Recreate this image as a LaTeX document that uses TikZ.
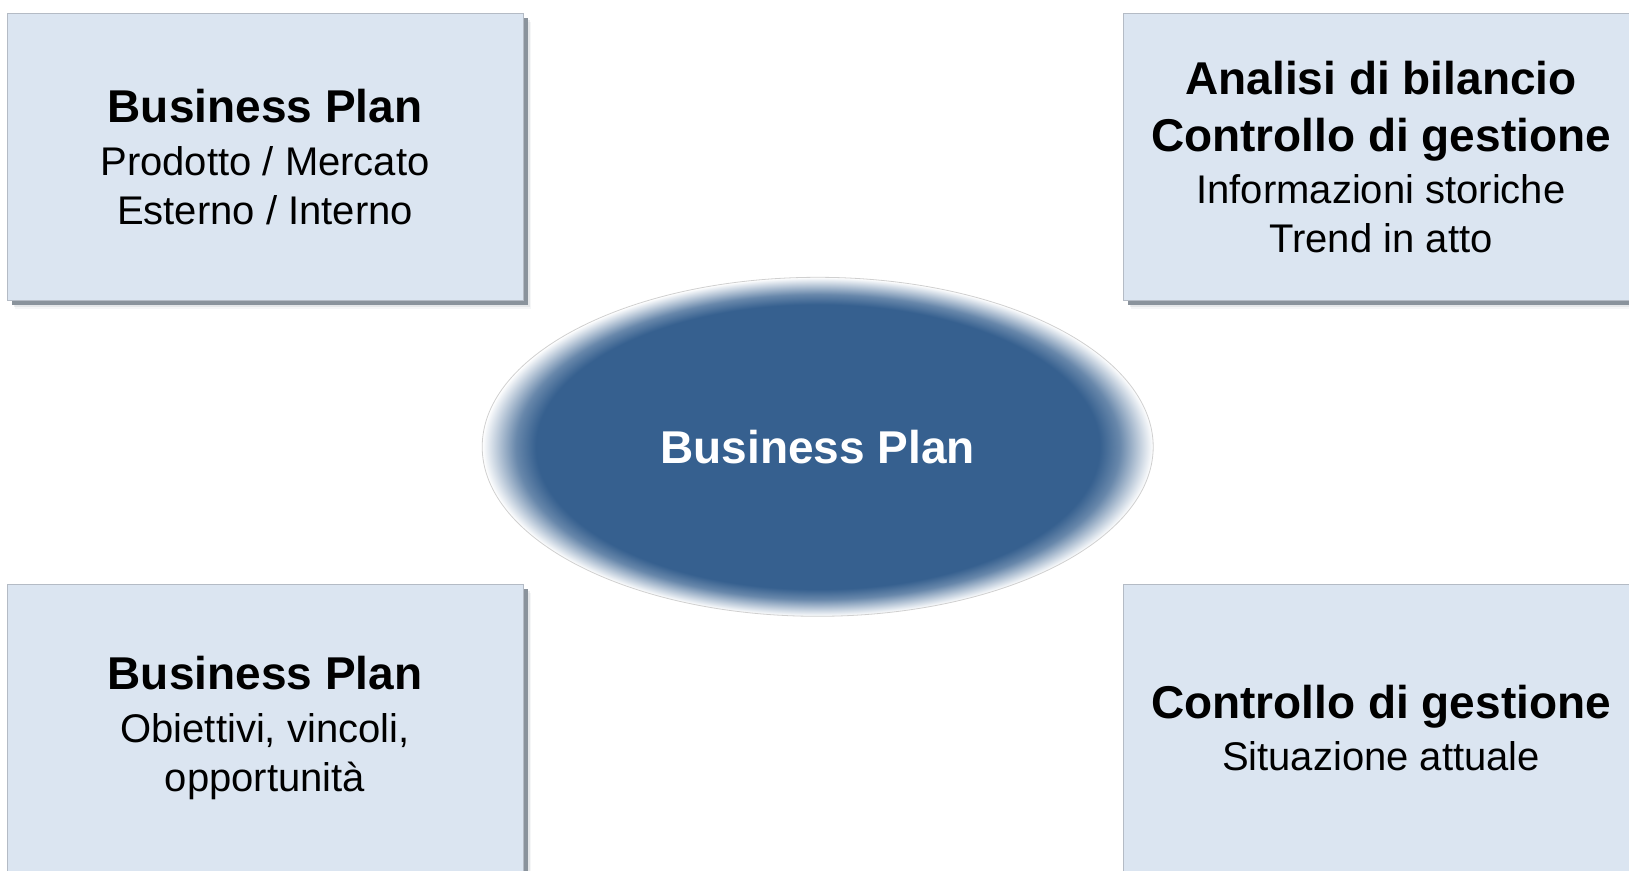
\documentclass[tikz,border=0pt]{standalone}
\usepackage{fontspec}
\setmainfont{Liberation Sans}
\usetikzlibrary{positioning,shapes.geometric,shadows}

\definecolor{boxfill}{HTML}{DBE5F1}
\definecolor{boxline}{HTML}{B4BBC5}
\definecolor{shadowgrey}{HTML}{8A939C}
\definecolor{bpblue}{HTML}{36608F}
\definecolor{rimgrey}{HTML}{D0D0D0}

\pgfdeclareradialshading{softedge}{\pgfpoint{0bp}{0bp}}{color(0bp)=(bpblue); color(21bp)=(bpblue); color(22.5bp)=(bpblue!75!white); color(24bp)=(bpblue!30!white); color(25bp)=(white); color(50bp)=(white)}

\tikzset{
	infobox/.style={rectangle, draw=boxline, line width=1pt, fill=boxfill,
		minimum width=516pt, minimum height=287pt, inner sep=0pt, align=center,
		font={\fontsize{40}{49}\selectfont},
		drop shadow={shadow xshift=8pt, shadow yshift=-8pt, fill=shadowgrey, opacity=.08},
		drop shadow={shadow xshift=6.5pt, shadow yshift=-6.5pt, fill=shadowgrey, opacity=.15},
		drop shadow={shadow xshift=4.5pt, shadow yshift=-4.5pt, fill=shadowgrey, opacity=1}},
	hub/.style={ellipse, draw=rimgrey, line width=0.8pt, shade, shading=softedge,
		minimum width=671pt, minimum height=339pt, inner sep=0pt, text=white,
		font={\bfseries\fontsize{46}{55}\selectfont}}
}
\newcommand{\boxhead}[1]{{\bfseries\fontsize{46}{55}\selectfont #1}}

\begin{document}
\begin{tikzpicture}[x=1pt,y=-1pt]
\fill[white] (0,0) rectangle (1629,870);
\useasboundingbox (0,0) rectangle (1629,870);
\clip (0,0) rectangle (1629,870);

% the four boxes
\node[infobox] (planA) at (265,157) {\boxhead{Business Plan}\\[4pt]Prodotto / Mercato\\Esterno / Interno};
\node[infobox] (bilancio) at (1381,157) {\boxhead{Analisi di bilancio}\\[8pt]\boxhead{Controllo di gestione}\\[3pt]Informazioni storiche\\Trend in atto};
\node[infobox] (planB) at (265,728) {\boxhead{Business Plan}\\[4pt]Obiettivi, vincoli,\\opportunità};
\node[infobox] (gestione) at (1381,728) {\boxhead{Controllo di gestione}\\[3pt]Situazione attuale};

% centre
\node[hub] (bp) at (817.7,446.8) {Business Plan};

\end{tikzpicture}
\end{document}
